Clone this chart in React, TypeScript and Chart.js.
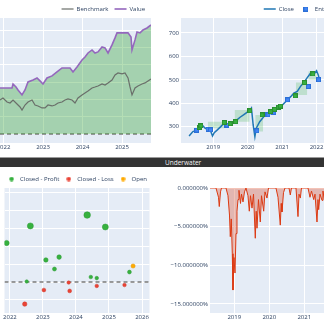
import React, { useEffect, useRef } from 'react';
import { Chart, registerables } from 'chart.js';

Chart.register(...registerables);

// ---------------- Panel 1: portfolio value vs benchmark ----------------
const valueYears = [2021.911, 2022.165, 2022.215, 2022.241, 2022.316, 2022.367, 2022.468, 2022.544, 2022.62, 2022.747, 2022.848, 2022.924, 2023.0, 2023.101, 2023.228, 2023.354, 2023.481, 2023.608, 2023.684, 2023.759, 2023.861, 2023.987, 2024.063, 2024.139, 2024.241, 2024.316, 2024.392, 2024.494, 2024.57, 2024.646, 2024.747, 2024.823, 2024.873, 2025.0, 2025.152, 2025.228, 2025.253, 2025.329, 2025.38, 2025.456, 2025.532, 2025.633, 2025.734];
const valueSeries = [153.2, 153.2, 153.2, 157.8, 154.3, 150.9, 145.1, 150.9, 160.1, 162.4, 164.7, 161.3, 157.8, 164.7, 167.1, 171.7, 176.3, 176.3, 176.3, 171.7, 177.5, 185.5, 189.0, 193.6, 197.1, 193.6, 194.8, 200.6, 199.4, 193.6, 202.9, 211.0, 216.8, 216.8, 216.8, 212.1, 197.1, 208.7, 217.9, 216.8, 220.2, 222.5, 226.0];
const benchYears = [2021.911, 2021.987, 2022.089, 2022.165, 2022.241, 2022.342, 2022.418, 2022.468, 2022.544, 2022.62, 2022.722, 2022.797, 2022.873, 2022.975, 2023.051, 2023.127, 2023.228, 2023.304, 2023.38, 2023.481, 2023.557, 2023.633, 2023.734, 2023.81, 2023.886, 2023.987, 2024.063, 2024.139, 2024.241, 2024.316, 2024.392, 2024.494, 2024.57, 2024.646, 2024.747, 2024.823, 2024.899, 2025.0, 2025.076, 2025.152, 2025.203, 2025.253, 2025.329, 2025.405, 2025.506, 2025.582, 2025.658, 2025.734];
const benchSeries = [139.3, 141.6, 137.0, 135.8, 139.3, 134.7, 131.2, 127.7, 133.5, 137.0, 139.3, 133.5, 132.4, 130.1, 130.1, 133.5, 132.4, 133.5, 135.8, 137.0, 139.3, 140.5, 139.3, 135.8, 141.6, 145.1, 147.4, 149.7, 153.2, 154.3, 155.5, 157.8, 156.6, 159.0, 162.4, 168.2, 170.5, 169.4, 170.5, 164.7, 154.3, 145.1, 153.2, 155.5, 157.8, 159.0, 161.3, 163.6];
const INIT_VALUE = 100;
const valueTickYears = [2022, 2023, 2024, 2025];
const valueGridLevels = [100, 120, 140, 160, 180, 200, 220];
const VALUE_X = [2021.911, 2025.734];
const VALUE_Y = [89.6, 234];

// ---------------- Panel 2: close price with trades ----------------
const closeYears = [2018.3, 2018.41, 2018.49, 2018.56, 2018.65, 2018.7, 2018.77, 2018.84, 2018.89, 2018.93, 2018.98, 2019.03, 2019.12, 2019.22, 2019.31, 2019.41, 2019.5, 2019.59, 2019.69, 2019.78, 2019.88, 2019.97, 2020.07, 2020.11, 2020.16, 2020.21, 2020.25, 2020.35, 2020.49, 2020.59, 2020.68, 2020.78, 2020.87, 2020.96, 2021.06, 2021.15, 2021.25, 2021.34, 2021.44, 2021.53, 2021.63, 2021.72, 2021.81, 2021.91, 2022.0, 2022.05, 2022.09];
const closePrices = [260, 279, 283, 293, 300, 303, 293, 289, 286, 279, 260, 274, 286, 300, 314, 310, 317, 321, 329, 340, 350, 360, 371, 379, 307, 257, 293, 321, 346, 350, 357, 368, 379, 385, 400, 414, 428, 443, 450, 471, 488, 507, 525, 521, 539, 521, 497];
const entryYears = [2018.52, 2018.85, 2018.92, 2019.4, 2020.27, 2020.59, 2020.76, 2021.16, 2021.76, 2022.06];
const entryPrices = [285, 289, 286, 306, 282, 350, 360, 414, 471, 500];
const exitYears = [2018.59, 2018.64, 2019.32, 2019.49, 2019.65, 2020.06, 2020.42, 2020.66, 2020.78, 2020.9, 2020.95, 2021.38, 2021.65, 2021.89];
const exitPrices = [297, 303, 318, 312, 321, 367, 350, 364, 374, 383, 388, 431, 488, 525];
const tradeStartYears = [2018.84, 2019.62, 2020.22, 2021.4, 2021.76];
const tradeEndYears = [2019.32, 2020.06, 2020.45, 2021.73, 2022.01];
const tradeStartPrices = [293, 321, 279, 435, 500];
const tradeEndPrices = [321, 371, 350, 488, 535];
const closeTickYears = [2019, 2020, 2021, 2022, 2023];
const closeTicks = [300, 400, 500, 600, 700];
const CLOSE_X = [2018.065, 2023.9];
const CLOSE_Y = [230, 764];

// ---------------- Panel 3: trade PnL ----------------
const profitYears = [2021.9, 2022.51, 2022.62, 2023.09, 2023.35, 2023.49, 2024.34, 2024.45, 2024.63, 2024.89, 2025.62];
const profitPnl = [21.9, 0.3, 31.5, 12.4, 7.3, 14.0, 37.6, 2.8, 2.2, 30.9, 5.6];
const lossYears = [2022.45, 2023.03, 2023.78, 2023.81, 2024.63, 2025.47];
const lossPnl = [-12.4, -4.5, -0.3, -5.0, -2.2, -1.7];
const openYears = [2025.73];
const openPnl = [9.0];
const pnlTickYears = [2022, 2023, 2024, 2025, 2026];
const pnlGridLevels = [-10, 0, 10, 20, 30, 40, 50];
const PNL_X = [2021.837, 2026.227];
const PNL_Y = [-17.4, 52.8];

// ---------------- Panel 4: underwater ----------------
const uwYears = [2018.306, 2018.477, 2018.549, 2018.571, 2018.606, 2018.634, 2018.763, 2018.82, 2018.863, 2018.886, 2018.914, 2018.943, 2018.963, 2018.991, 2019.02, 2019.049, 2019.077, 2019.106, 2019.134, 2019.177, 2019.206, 2019.249, 2019.291, 2019.334, 2019.391, 2019.429, 2019.463, 2019.506, 2019.549, 2019.6, 2019.626, 2019.649, 2019.691, 2019.743, 2019.777, 2019.84, 2019.877, 2019.934, 2019.977, 2020.191, 2020.249, 2020.314, 2020.34, 2020.363, 2020.406, 2020.449, 2020.563, 2020.6, 2020.634, 2020.763, 2020.82, 2020.849, 2020.886, 2020.92, 2021.106, 2021.163, 2021.206, 2021.269, 2021.306, 2021.363, 2021.391, 2021.411, 2021.449, 2021.506, 2021.534, 2021.591, 2021.649];
const uwDrawdown = [0, 0, -1.2, -2.4, -0.5, 0, 0, -1.0, -3.5, -6.3, -4.0, -8.5, -13.2, -9.0, -11.0, -5.9, -3.0, -1.5, -0.3, -2.0, -0.8, -1.8, -0.5, 0, -1.0, -3.0, -1.0, -2.6, -0.8, -6.5, -3.0, -5.2, -1.5, -4.4, -1.0, -3.0, -0.5, -1.3, 0, 0, -1.2, -4.8, -2.0, -3.1, -0.6, 0, 0, -0.9, 0, 0, -3.7, -0.8, -1.3, 0, 0, -1.2, -0.4, -1.5, -0.8, -4.4, -1.5, -2.8, -0.8, -1.6, -0.4, -2.0, 0];
const uwTickYears = [2019, 2020, 2021, 2022, 2023, 2024, 2025];
const uwTicks = [0, -5, -10, -15];
const UW_X = [2018.306, 2026.02];
const UW_Y = [-16.17, 0];

// ---------------- styling helpers ----------------
const FONT = { family: "'Open Sans', 'DejaVu Sans', sans-serif", size: 6 };
const TEXT = '#2a3f5f';
const PLOT_BG = '#E5ECF6';

const bgPlugin = {
  id: 'plotBg',
  beforeDraw(chart: any) {
    const { ctx, chartArea: a } = chart;
    ctx.save();
    ctx.fillStyle = PLOT_BG;
    ctx.fillRect(a.left, a.top, a.right - a.left, a.bottom - a.top);
    ctx.restore();
  },
};

const pts = (xs: number[], ys: number[]) => xs.map((x, i) => ({ x, y: ys[i] }));

function xAxis(range: number[], years: number[], height: number) {
  return {
    type: 'linear',
    min: range[0],
    max: range[1],
    afterBuildTicks: (s: any) => { s.ticks = years.map((v) => ({ value: v })); },
    afterFit: (s: any) => { s.height = height; s.paddingLeft = 0; s.paddingRight = 0; },
    ticks: { font: FONT, color: TEXT, padding: 1, maxRotation: 0, autoSkip: false, callback: (v: any) => String(v) },
    grid: { color: '#ffffff', lineWidth: 1, drawTicks: false },
    border: { display: false },
  };
}

function yAxis(range: number[], levels: number[], width: number, showLabels: boolean, fmt?: (v: number) => string) {
  return {
    type: 'linear',
    min: range[0],
    max: range[1],
    afterBuildTicks: (s: any) => { s.ticks = levels.map((v) => ({ value: v })); },
    afterFit: (s: any) => { s.width = width; s.paddingTop = 0; s.paddingBottom = 0; },
    ticks: { display: showLabels, font: FONT, color: TEXT, padding: 2, callback: (v: any) => (fmt ? fmt(v) : String(v)) },
    grid: { color: '#ffffff', lineWidth: 1, drawTicks: false },
    border: { display: false },
  };
}

function legendOpts(labels: any, maxHeight = 18) {
  return {
    display: true,
    position: 'top',
    align: 'end',
    maxHeight,
    labels: { usePointStyle: true, font: FONT, color: TEXT, padding: 6, filter: (it: any) => !!it.text, sort: (a: any, b: any) => a.datasetIndex - b.datasetIndex, ...labels },
  };
}

function squareImage(fill: string, stroke: string, size: number) {
  const c = document.createElement('canvas');
  c.width = size;
  c.height = size;
  const g = c.getContext('2d')!;
  g.fillStyle = stroke;
  g.fillRect(0, 0, size, size);
  g.fillStyle = fill;
  g.fillRect(1, 1, size - 2, size - 2);
  return c;
}

function dotImage(fill: string, size: number) {
  const c = document.createElement('canvas');
  c.width = size;
  c.height = size;
  const g = c.getContext('2d')!;
  g.fillStyle = fill;
  g.beginPath();
  g.arc(size / 2, size / 2, size / 2 - 0.3, 0, Math.PI * 2);
  g.fill();
  return c;
}

const base = { responsive: false, animation: false, events: [] as any[], devicePixelRatio: 1 };

function valueConfig(): any {
  return {
    type: 'line',
    data: {
      datasets: [
        { label: 'Benchmark', data: pts(benchYears, benchSeries), borderColor: '#6a6f6a', borderWidth: 1.2, pointRadius: 0, pointStyle: 'line', fill: false, tension: 0 },
        { label: 'Value', data: pts(valueYears, valueSeries), borderColor: '#9467bd', borderWidth: 1.6, pointRadius: 0, pointStyle: 'line', tension: 0,
          fill: { target: { value: INIT_VALUE }, above: 'rgba(44,160,44,0.35)', below: 'rgba(214,39,40,0.3)' } },
        { label: '', data: pts(VALUE_X, [INIT_VALUE, INIT_VALUE]), borderColor: '#7a7a7a', borderWidth: 1.4, borderDash: [4, 3], pointRadius: 0, fill: false },
      ],
    },
    options: {
      ...base,
      layout: { padding: { top: 0, right: 3, left: 0, bottom: 0 } },
      plugins: { legend: legendOpts({ pointStyleWidth: 12, boxHeight: 6 }), tooltip: { enabled: false } },
      scales: { x: xAxis(VALUE_X, valueTickYears, 9), y: yAxis(VALUE_Y, valueGridLevels, 0, false) },
    },
    plugins: [bgPlugin],
  };
}

function closeConfig(): any {
  const entryImg = squareImage('#4285F4', '#2b6fd6', 5);
  const exitImg = squareImage('#37B13F', '#2a8f31', 5);
  const rects = tradeStartYears.map((t, i) => ({
    label: '',
    data: pts([t, tradeEndYears[i]], [tradeStartPrices[i], tradeStartPrices[i]]),
    borderWidth: 0,
    pointRadius: 0,
    backgroundColor: 'rgba(55,177,63,0.22)',
    fill: { target: { value: tradeEndPrices[i] } },
    order: 3,
  }));
  return {
    type: 'line',
    data: {
      datasets: [
        { label: 'Close', data: pts(closeYears, closePrices), borderColor: '#1f77b4', borderWidth: 1.5, pointRadius: 0, pointStyle: 'line', fill: false, tension: 0, order: 2 },
        { label: 'Entry', data: pts(entryYears, entryPrices), showLine: false, pointStyle: entryImg, pointRadius: 3, order: 1 },
        { label: 'Exit - Profit', data: pts(exitYears, exitPrices), showLine: false, pointStyle: exitImg, pointRadius: 3, order: 0 },
        ...rects,
      ],
    },
    options: {
      ...base,
      layout: { padding: 0 },
      plugins: { legend: legendOpts({ pointStyleWidth: 12, boxHeight: 6 }), tooltip: { enabled: false } },
      scales: { x: xAxis(CLOSE_X, closeTickYears, 9), y: yAxis(CLOSE_Y, closeTicks, 21, true) },
    },
    plugins: [bgPlugin],
  };
}

const markerRadius = (c: any) => 1.7 + (1.6 * Math.abs(c.raw ? c.raw.y : 0)) / 37.6;

function pnlConfig(): any {
  const dots = [dotImage('#37B13F', 5), dotImage('#EA4335', 5), dotImage('#FFAA00', 5)];
  return {
    type: 'scatter',
    data: {
      datasets: [
        { label: 'Closed - Profit', data: pts(profitYears, profitPnl), backgroundColor: '#37B13F', borderColor: '#2f9a36', borderWidth: 0.5, pointStyle: 'circle', pointRadius: markerRadius },
        { label: 'Closed - Loss', data: pts(lossYears, lossPnl), backgroundColor: '#EA4335', borderColor: '#cf3a2d', borderWidth: 0.5, pointStyle: 'circle', pointRadius: markerRadius },
        { label: 'Open', data: pts(openYears, openPnl), backgroundColor: '#FFAA00', borderColor: '#e39700', borderWidth: 0.5, pointStyle: 'circle', pointRadius: markerRadius },
        { label: '', type: 'line', data: pts(PNL_X, [0, 0]), borderColor: '#7a7a7a', borderWidth: 1.4, borderDash: [4, 3], pointRadius: 0, fill: false },
      ],
    },
    options: {
      ...base,
      layout: { padding: { top: 4, right: 3, left: 0, bottom: 0 } },
      plugins: {
        legend: legendOpts({
          pointStyleWidth: 11,
          boxHeight: 6,
          padding: 4,
          generateLabels: (chart: any) =>
            (Chart.defaults as any).plugins.legend.labels.generateLabels(chart).map((it: any) => ({ ...it, pointStyle: dots[it.datasetIndex] || it.pointStyle })),
        }, 16),
        tooltip: { enabled: false },
      },
      scales: { x: xAxis(PNL_X, pnlTickYears, 11), y: yAxis(PNL_Y, pnlGridLevels, 0, false) },
    },
    plugins: [bgPlugin],
  };
}

const pctLabel = (v: number) => (v < 0 ? '\u2212' : '') + Math.abs(v).toFixed(6) + '%';

function uwConfig(): any {
  return {
    type: 'line',
    data: {
      datasets: [
        { label: 'Underwater', data: pts(uwYears, uwDrawdown), borderColor: '#dc3912', borderWidth: 1, pointRadius: 0, tension: 0,
          fill: { target: 'origin' }, backgroundColor: 'rgba(220,57,18,0.3)' },
      ],
    },
    options: {
      ...base,
      layout: { padding: { top: 20, right: 0, left: 0, bottom: 0 } },
      plugins: { legend: { display: false }, tooltip: { enabled: false } },
      scales: { x: xAxis(UW_X, uwTickYears, 11), y: yAxis(UW_Y, uwTicks, 60, true, pctLabel) },
    },
    plugins: [bgPlugin],
  };
}

function ChartBox(props: { left: number; top: number; width: number; height: number; make: () => any }) {
  const ref = useRef<HTMLCanvasElement>(null);
  useEffect(() => {
    const chart = new Chart(ref.current as HTMLCanvasElement, props.make());
    return () => chart.destroy();
  }, []);
  return (
    <canvas
      ref={ref}
      width={props.width}
      height={props.height}
      style={{ position: 'absolute', left: props.left, top: props.top, width: props.width, height: props.height }}
    />
  );
}

export default function App() {
  return (
    <div style={{ position: 'fixed', left: 0, top: 0, width: 324, height: 324, overflow: 'hidden', background: '#ffffff' }}>
      <ChartBox left={0} top={0} width={154} height={152} make={valueConfig} />
      <ChartBox left={160} top={0} width={227} height={152} make={closeConfig} />
      <div
        style={{
          position: 'absolute', left: 0, top: 157, width: 324, height: 10, boxSizing: 'border-box',
          background: '#333333', borderTop: '1px solid #9a9a9a', color: '#f2f2f2',
          fontFamily: "'Open Sans', sans-serif", fontSize: 6.5, lineHeight: '9px', paddingLeft: 165, whiteSpace: 'nowrap',
        }}
      >
        Underwater
      </div>
      <ChartBox left={0} top={168} width={154} height={156} make={pnlConfig} />
      <ChartBox left={150} top={168} width={330} height={156} make={uwConfig} />
    </div>
  );
}
